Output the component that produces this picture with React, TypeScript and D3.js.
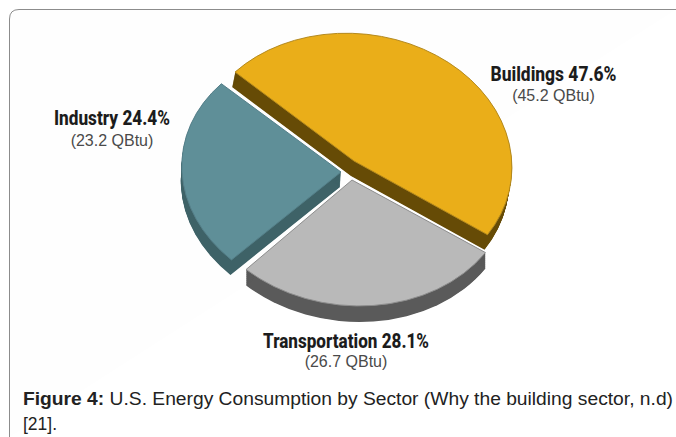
import React from "react";
import * as d3 from "d3";

const sectors = ["Buildings", "Transportation", "Industry"];
const shares = [47.6, 28.1, 24.4];
const quads = ["(45.2 QBtu)", "(26.7 QBtu)", "(23.2 QBtu)"];
const faceColors = ["#EAAE19", "#B9B9B9", "#5F8F98"];
const wallColors = ["#664B06", "#5A5A5A", "#3E6267"];
const edgeColors = ["#B58A1E", "#8E8E8E", "#56808A"];
const centers = [[354, 161], [352, 180], [341, 172]];
const radiiX = [158, 158, 159];
const radiiY = [128, 126, 127];
const skew = 0.06;
const wallShift = [[-3, 15], [0, 16], [-1, 15]];
const endTrimDeg = [0, -1.5, 0];
const labelPos = [
  { x: 553.5, y: 81, y2: 101, w: 126 },
  { x: 346, y: 348, y2: 367, w: 166 },
  { x: 112, y: 125, y2: 146, w: 116 },
];

const W = 676;
const H = 437;

export default function App() {
  const pie = d3
    .pie<number>()
    .sort(null)
    .startAngle((-46 * Math.PI) / 180)
    .endAngle((314 * Math.PI) / 180);
  const arcs = pie(shares);
  const arc = d3.arc<any>().innerRadius(0).outerRadius(1);

  return (
    <svg
      width={W}
      height={H}
      viewBox={`0 0 ${W} ${H}`}
      style={{ position: "fixed", left: 0, top: 0, background: "#fff", display: "block" }}
    >
      <path
        d={`M9.5 ${H} V19 Q9.5 9.5 19 9.5 H${W}`}
        fill="#fefefe"
        stroke="#8c8c8c"
        strokeWidth={1}
      />
      {arcs.map((a, i) => {
        const d = arc({
          ...a,
          endAngle: a.endAngle + (endTrimDeg[i] * Math.PI) / 180,
        }) as string;
        const [cx, cy] = centers[i];
        const [sx, sy] = wallShift[i];
        const rx = radiiX[i];
        const ry = radiiY[i];
        const steps = d3.range(1, 25).map((k) => k / 24);
        const m = (ox: number, oy: number) =>
          `matrix(${rx},0,${skew * ry},${ry},${ox},${oy})`;
        return (
          <g key={sectors[i]}>
            {steps.map((t) => (
              <path key={t} d={d} transform={m(cx + sx * t, cy + sy * t)} fill={wallColors[i]} />
            ))}
            <path
              d={d}
              transform={m(cx, cy)}
              fill={faceColors[i]}
              stroke={edgeColors[i]}
              strokeWidth={1}
              vectorEffect="non-scaling-stroke"
            />
          </g>
        );
      })}
      {sectors.map((s, i) => (
        <g key={s} textAnchor="middle">
          <text
            x={labelPos[i].x}
            y={labelPos[i].y}
            fontFamily="'Roboto', sans-serif"
            fontWeight={800}
            fontSize={20}
            fill="#1c1c1c"
            textLength={labelPos[i].w}
            lengthAdjust="spacingAndGlyphs"
          >
            {`${s} ${shares[i].toFixed(1)}%`}
          </text>
          <text
            x={labelPos[i].x}
            y={labelPos[i].y2}
            fontFamily="'Liberation Sans', sans-serif"
            fontSize={16}
            fill="#4a4a4a"
          >
            {quads[i]}
          </text>
        </g>
      ))}
      <text
        x={23}
        y={405}
        fontFamily="'Liberation Sans', sans-serif"
        fontSize={17.5}
        fill="#222"
        textLength={650}
        lengthAdjust="spacingAndGlyphs"
      >
        <tspan fontWeight={700}>Figure 4:</tspan> U.S. Energy Consumption by Sector (Why the building sector, n.d)
      </text>
      <text x={23} y={430} fontFamily="'Liberation Sans', sans-serif" fontSize={17.5} fill="#222">
        [21].
      </text>
    </svg>
  );
}
